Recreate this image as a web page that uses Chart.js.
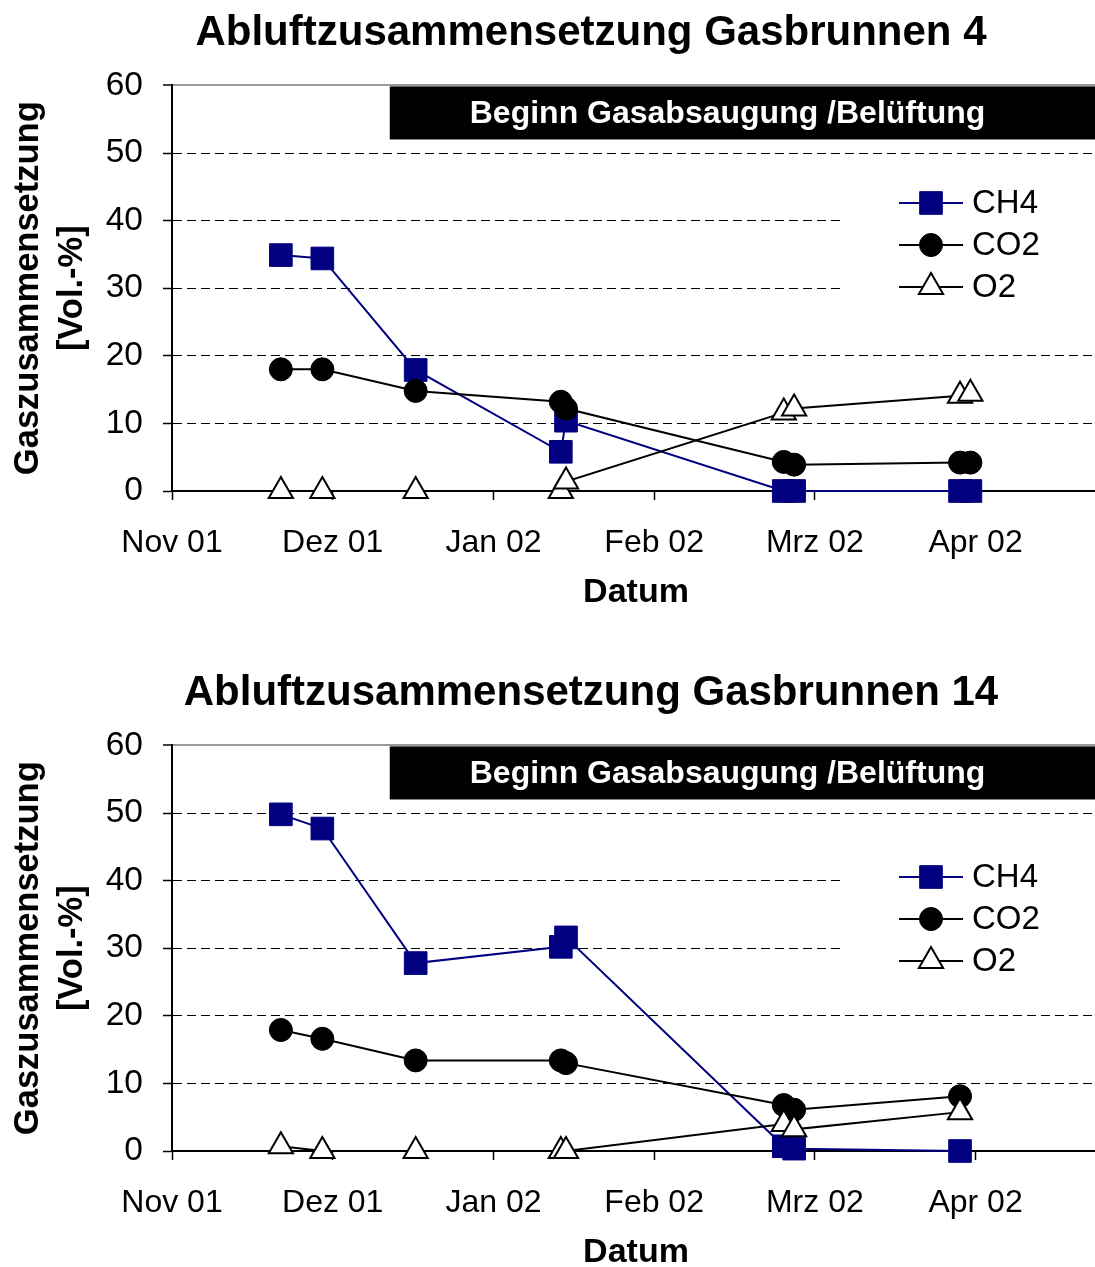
<!DOCTYPE html>
<html>
<head>
<meta charset="utf-8">
<script src="https://cdn.jsdelivr.net/npm/chart.js@4"></script>
<style>
  body { margin: 0; width: 1095px; height: 1267px; overflow: hidden; background: #fff; }
  .box { position: absolute; left: 0; width: 1182px; height: 660px; }
</style>
</head>
<body>
<div class="box" style="top:0"><canvas id="gb4" width="1182" height="660"></canvas></div>
<div class="box" style="top:660px"><canvas id="gb14" width="1182" height="660"></canvas></div>
<script>
// month tick labels (one tick every 31 days from 1 Nov 2001)
const monthLabels = ['Nov 01', 'Dez 01', 'Jan 02', 'Feb 02', 'Mrz 02', 'Apr 02'];
const beginDate = '2001-12-13';   // Beginn Gasabsaugung / Belueftung

// Gasbrunnen 4
const gb4Dates = ['2001-11-22', '2001-11-30', '2001-12-18', '2002-01-15', '2002-01-16',
                  '2002-02-27', '2002-03-01', '2002-04-02', '2002-04-04'];
const gb4CH4 = [34.9, 34.4, 17.9, 5.8, 10.4, 0, 0, 0, 0];
const gb4CO2 = [18.0, 18.0, 14.8, 13.2, 12.2, 4.3, 3.9, 4.2, 4.2];
const gb4O2  = [0, 0, 0, 0, 1.4, 11.6, 12.2, 14.1, 14.4];

// Gasbrunnen 14
const gb14Dates = ['2001-11-22', '2001-11-30', '2001-12-18', '2002-01-15', '2002-01-16',
                   '2002-02-27', '2002-03-01', '2002-04-02'];
const gb14CH4 = [49.8, 47.7, 27.8, 30.2, 31.6, 0.7, 0.35, 0];
const gb14CO2 = [17.9, 16.6, 13.4, 13.4, 13.0, 6.8, 6.1, 8.1];
const gb14O2  = [0.7, 0, 0, 0, 0, 4.0, 3.2, 5.75];

const FONT = 'Arial, "Liberation Sans", sans-serif';
Chart.defaults.font.family = FONT;
Chart.defaults.color = '#000';

const day0 = Date.UTC(2001, 10, 1);
const toDay = s => (Date.parse(s) - day0) / 864e5;

function series(label, dates, values, color, fill, style, radius, bw, order) {
    return {
        label: label,
        data: dates.map((d, i) => ({x: toDay(d), y: values[i]})),
        borderColor: color,
        backgroundColor: fill,
        borderWidth: 2,
        pointStyle: style,
        pointRadius: radius,
        pointHoverRadius: radius,
        pointBackgroundColor: fill,
        pointBorderColor: color,
        pointBorderWidth: bw,
        order: order,
        clip: false,
        tension: 0
    };
}

// legend drawn inside the plot, white background hides the grid
const gasLegend = {
    id: 'gasLegend',
    beforeDatasetsDraw(chart, args, o) {
        const ctx = chart.ctx;
        const n = chart.data.datasets.length;
        ctx.save();
        ctx.fillStyle = '#fff';
        ctx.fillRect(o.x, o.top - 31, chart.width - o.x, (n - 1) * o.gap + 62);
        ctx.font = '33px ' + FONT;
        ctx.textBaseline = 'middle';
        chart.data.datasets.forEach((ds, i) => {
            const y = o.top + i * o.gap;
            ctx.strokeStyle = ds.borderColor;
            ctx.lineWidth = ds.borderWidth;
            ctx.beginPath();
            ctx.moveTo(o.x + 59, y);
            ctx.lineTo(o.x + 123, y);
            ctx.stroke();
            ctx.fillStyle = ds.pointBackgroundColor;
            ctx.strokeStyle = ds.pointBorderColor;
            ctx.lineWidth = ds.pointBorderWidth;
            Chart.helpers.drawPoint(ctx, {pointStyle: ds.pointStyle, radius: ds.pointRadius,
                borderWidth: ds.pointBorderWidth, rotation: 0}, o.x + 91, y);
            ctx.fillStyle = '#000';
            ctx.fillText(ds.label, o.x + 132, y + 1);
        });
        ctx.restore();
    }
};

// black bar "Beginn Gasabsaugung /Belüftung"
const startBox = {
    id: 'startBox',
    beforeDatasetsDraw(chart, args, o) {
        const {ctx, chartArea, scales: {x, y}} = chart;
        const left = x.getPixelForValue(o.from);
        const top = y.getPixelForValue(y.max) + 1;
        const bottom = y.getPixelForValue(o.to);
        ctx.save();
        ctx.fillStyle = '#000';
        ctx.fillRect(left, top, chartArea.right - left, bottom - top);
        ctx.fillStyle = '#fff';
        ctx.font = 'bold 32px ' + FONT;
        ctx.textBaseline = 'middle';
        ctx.fillText(o.text, left + 80, (top + bottom) / 2 + 1);
        ctx.restore();
    }
};

function makeChart(id, title, dates, ch4, co2, o2, legendTop) {
    return new Chart(document.getElementById(id), {
        type: 'line',
        data: {
            datasets: [
                series('CH4', dates, ch4, '#000080', '#000080', 'rect', 16, 1, 3),
                series('CO2', dates, co2, '#000', '#000', 'circle', 11.5, 1, 2),
                series('O2', dates, o2, '#000', '#fff', 'triangle', 14, 2, 1)
            ]
        },
        options: {
            responsive: false,
            animation: false,
            events: [],
            layout: {padding: 0},
            plugins: {
                legend: {display: false},
                tooltip: {enabled: false},
                title: {
                    display: true,
                    text: title,
                    color: '#000',
                    font: {size: 42, weight: 'bold'},
                    padding: {top: 8, bottom: 27}
                },
                gasLegend: {x: 840, top: legendTop, gap: 42},
                startBox: {from: toDay(beginDate), to: 52, text: 'Beginn Gasabsaugung /Belüftung'}
            },
            scales: {
                x: {
                    type: 'linear',
                    min: 0,
                    max: 179,
                    afterFit: s => { s.height = 169; },
                    grid: {drawOnChartArea: false, tickLength: 9, tickColor: '#000', tickWidth: 1.5},
                    border: {color: '#000', width: 2},
                    ticks: {
                        stepSize: 31,
                        includeBounds: false,
                        autoSkip: false,
                        maxRotation: 0,
                        padding: 24,
                        font: {size: 32},
                        color: '#000',
                        callback: v => monthLabels[Math.round(v / 31)] || ''
                    },
                    title: {display: true, text: 'Datum', color: '#000',
                        font: {size: 34, weight: 'bold'}, padding: {top: 0, bottom: 47}}
                },
                y: {
                    min: 0,
                    max: 60,
                    afterFit: s => { s.width = 172; },
                    grid: {
                        color: c => c.tick.value === 60 ? '#999' : '#000',
                        lineWidth: c => c.tick.value === 60 ? 2 : 1,
                        tickLength: 9,
                        tickColor: '#000',
                        tickWidth: 1.5
                    },
                    border: {
                        color: '#000',
                        width: 2,
                        dash: c => (c.tick && (c.tick.value === 0 || c.tick.value === 60)) ? [] : [9, 5]
                    },
                    ticks: {stepSize: 10, padding: 20, font: {size: 33.5}, color: '#000'},
                    title: {display: true, text: ['Gaszusammensetzung', '[Vol.-%]'], color: '#000',
                        font: {size: 34.5, weight: 'bold', lineHeight: 1.28}, padding: {top: 6, bottom: 0}}
                },
                // empty right-hand scale: keeps the plot area narrower than the canvas
                yRight: {
                    type: 'linear',
                    position: 'right',
                    afterFit: s => { s.width = 82; },
                    grid: {display: false, drawTicks: false},
                    border: {display: false},
                    ticks: {display: false}
                }
            }
        },
        plugins: [startBox, gasLegend]
    });
}

makeChart('gb4', 'Abluftzusammensetzung Gasbrunnen 4', gb4Dates, gb4CH4, gb4CO2, gb4O2, 203);
makeChart('gb14', 'Abluftzusammensetzung Gasbrunnen 14', gb14Dates, gb14CH4, gb14CO2, gb14O2, 217);
</script>
</body>
</html>
